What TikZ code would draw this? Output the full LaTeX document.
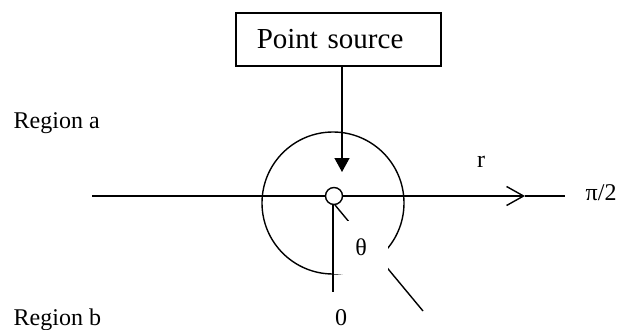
\documentclass[tikz,border=0pt]{standalone}
\usepackage{fontspec}
\setmainfont{Liberation Serif}
\usetikzlibrary{arrows.meta}
\tikzset{
  lbl/.style={font=\fontsize{24}{28}\selectfont, inner sep=0pt},
  srcbox/.style={draw, line width=1.6pt, font=\fontsize{29}{34}\selectfont,
    minimum width=205pt, minimum height=53pt, text width=163pt,
    inner xsep=21pt, align=left},
  coverbox/.style={fill=white, minimum width=54pt, minimum height=53pt, inner sep=0pt}
}
\begin{document}
\begin{tikzpicture}[x=1pt, y=-1pt, line width=1.4pt, >={Triangle[length=14pt, width=15pt]}]
\useasboundingbox (0,0) rectangle (623,329);
% Fonte
\node[srcbox, anchor=north west] (src) at (235,12) {Point source};
\coordinate (tip) at (342,172);
% Regioes
\node[lbl, anchor=base west] (rega) at (13,128) {Region a};
\node[lbl, anchor=base west] (regb) at (13,325) {Region b};
% Circulo
\coordinate (cen) at (333,203);
\draw (cen) circle[radius=71];
\coordinate (foot) at (333,292);
\coordinate (ray0) at (335,205);
\coordinate (ray1) at (423,311);
\draw (333,205) -- (foot);
\draw (ray0) -- (ray1);
% Eixo
\coordinate (west) at (92,196);
\coordinate (mid) at (525,196);
\coordinate (east) at (565,196);
\draw[-{Straight Barb[length=17pt, width=19pt]}] (west) -- (mid);
\draw (mid) -- (east);
\node[draw, circle, fill=white, minimum size=17pt, inner sep=0pt] (orig) at (334,196) {};
% Seta
\draw[->] (src.south -| tip) -- (tip);
% Angulo
\node[lbl, coverbox, anchor=north west] (theta) at (333.5,220) {θ};
\node[lbl, anchor=base] (zero) at (341,325) {0};
\node[lbl, anchor=base] (rlbl) at (481,167) {r};
\node[lbl, anchor=base west] (halfpi) at (585,200) {π/2};
\end{tikzpicture}
\end{document}
